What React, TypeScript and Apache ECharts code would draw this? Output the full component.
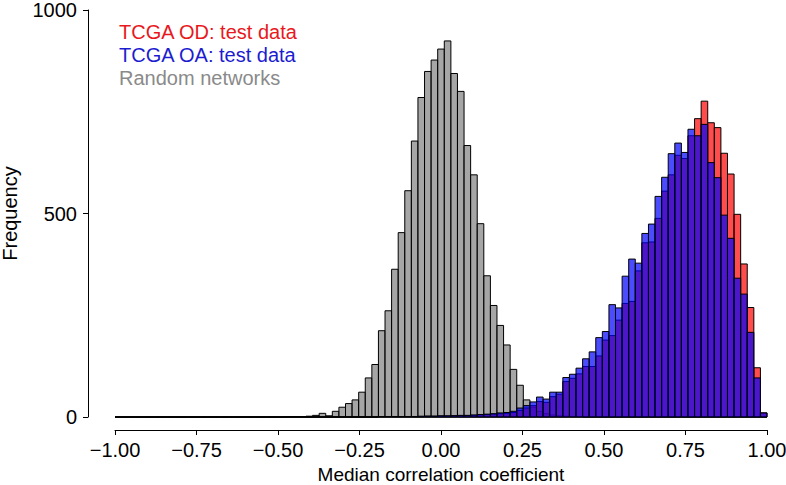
import React, { useEffect, useRef } from "react";
import * as echarts from "echarts";

// Histogram breaks: 99 equal bins from -1 to 1
const BIN_COUNT = 99;
const X_MIN = -1;
const X_MAX = 1;
const BREAKS: number[] = Array.from({ length: BIN_COUNT + 1 }, (_, i) => X_MIN + ((X_MAX - X_MIN) * i) / BIN_COUNT);

// Counts per bin (bins 0..98)
const randomNetworks: number[] = [
  0, 0, 0, 0, 0, 0, 0, 0, 0, 0,
  0, 0, 0, 0, 0, 0, 0, 0, 0, 0,
  0, 0, 0, 0, 0, 0, 1, 1, 1, 2,
  4, 9, 3, 14, 24, 33, 42, 61, 96, 129,
  212, 261, 363, 453, 556, 678, 785, 849, 877, 904,
  924, 844, 800, 667, 595, 475, 347, 274, 225, 177,
  117, 78, 42, 24, 14, 8, 5, 3, 2, 1,
  1, 0, 0, 0, 0, 0, 0, 0, 0, 0,
  0, 0, 0, 0, 0, 0, 0, 0, 0, 0,
  0, 0, 0, 0, 0, 0, 0, 0, 0,
];

const tcgaOD: number[] = [
  0, 0, 0, 0, 0, 0, 0, 0, 0, 0,
  0, 0, 0, 0, 0, 0, 0, 0, 0, 0,
  0, 0, 0, 0, 0, 0, 0, 0, 0, 0,
  0, 0, 0, 0, 0, 0, 0, 0, 0, 0,
  1, 1, 1, 1, 1, 1, 1, 2, 2, 2,
  2, 3, 3, 3, 4, 5, 6, 7, 8, 9,
  11, 16, 22, 28, 38, 36, 50, 56, 87, 95,
  106, 124, 124, 150, 189, 200, 238, 279, 284, 359,
  428, 430, 488, 555, 595, 643, 635, 691, 733, 776,
  723, 711, 648, 597, 498, 376, 269, 121, 10,
];

const tcgaOA: number[] = [
  0, 0, 0, 0, 0, 0, 0, 0, 0, 0,
  0, 0, 0, 0, 0, 0, 0, 0, 0, 0,
  0, 0, 0, 0, 0, 0, 0, 0, 0, 0,
  0, 0, 0, 0, 0, 0, 0, 0, 0, 0,
  1, 1, 1, 1, 1, 1, 2, 2, 2, 3,
  3, 3, 4, 4, 5, 6, 7, 8, 10, 11,
  14, 22, 28, 37, 49, 44, 61, 61, 97, 105,
  120, 143, 160, 195, 210, 276, 268, 346, 388, 378,
  451, 474, 542, 589, 647, 673, 650, 707, 691, 719,
  625, 588, 496, 439, 341, 302, 208, 96, 10,
];

const legendLabels = ["TCGA OD: test data", "TCGA OA: test data", "Random networks"];
const legendColors = ["#e8181c", "#1c1cd0", "#8a8a8a"];

const FONT = "'Liberation Sans', Arial, Helvetica, sans-serif";
const FS = 20;

function histSeries(name: string, values: number[], fill: string) {
  return {
    type: "custom",
    name,
    silent: true,
    data: values.map((v, i) => [BREAKS[i], BREAKS[i + 1], v]),
    encode: { x: [0, 1], y: 2 },
    renderItem: (_params: any, api: any) => {
      const p0 = api.coord([api.value(0), api.value(2)]);
      const p1 = api.coord([api.value(1), 0]);
      return {
        type: "rect",
        shape: { x: p0[0], y: p0[1], width: p1[0] - p0[0], height: p1[1] - p0[1] },
        style: { fill, stroke: "#000", lineWidth: 1 },
      };
    },
  };
}

export default function App() {
  const ref = useRef<HTMLDivElement>(null);
  useEffect(() => {
    if (!ref.current) return;
    const chart = echarts.init(ref.current, null, { renderer: "svg" });
    chart.setOption({
      animation: false,
      backgroundColor: "#fff",
      grid: { left: 115, right: 19, top: 10, bottom: 68, containLabel: false, outerBoundsMode: "none" },
      xAxis: {
        type: "value",
        min: -1,
        max: 1,
        interval: 0.25,
        offset: 13,
        name: "Median correlation coefficient",
        nameLocation: "middle",
        nameGap: 35,
        nameTextStyle: { fontFamily: FONT, fontSize: 19, color: "#000", lineHeight: 16 },
        axisLine: { show: true, onZero: false, lineStyle: { color: "#000", width: 1 } },
        axisTick: { show: true, length: 5, lineStyle: { color: "#000" } },
        axisLabel: {
          fontFamily: FONT,
          fontSize: FS,
          color: "#000",
          margin: 10,
          formatter: (v: number) => v.toFixed(2).replace("-", "\u2212"),
        },
        splitLine: { show: false },
      },
      yAxis: {
        type: "value",
        min: 0,
        max: 1000,
        interval: 500,
        offset: 27,
        name: "Frequency",
        nameLocation: "middle",
        nameRotate: 90,
        nameGap: 68,
        nameTextStyle: { fontFamily: FONT, fontSize: FS, color: "#000" },
        axisLine: { show: true, onZero: false, lineStyle: { color: "#000", width: 1 } },
        axisTick: { show: true, length: 5, lineStyle: { color: "#000" } },
        axisLabel: {
          fontFamily: FONT,
          fontSize: FS,
          color: "#000",
          margin: 11,
          formatter: (v: number) => String(v),
        },
        splitLine: { show: false },
      },
      series: [
        histSeries("Random networks", randomNetworks, "rgba(128,128,128,0.7)"),
        histSeries("TCGA OD: test data", tcgaOD, "rgba(255,0,0,0.7)"),
        histSeries("TCGA OA: test data", tcgaOA, "rgba(0,0,255,0.7)"),
      ],
      graphic: legendLabels.map((t, i) => ({
        type: "text",
        left: 119,
        top: [21.5, 44.5, 68][i],
        silent: true,
        style: { text: t, fill: legendColors[i], fontFamily: FONT, fontSize: FS },
      })),
    });
    return () => chart.dispose();
  }, []);
  return (
    <div
      ref={ref}
      style={{ position: "absolute", left: 0, top: 0, width: 786, height: 485 }}
    />
  );
}
